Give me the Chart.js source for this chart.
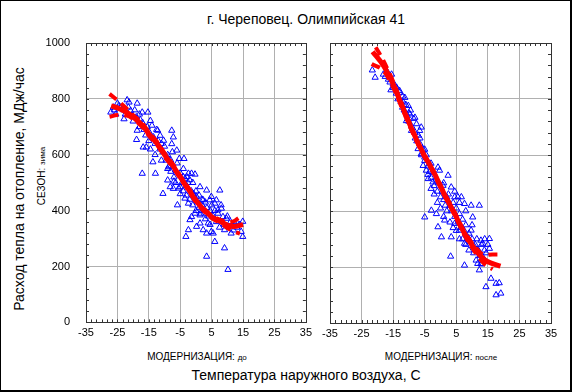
<!DOCTYPE html>
<html>
<head>
<meta charset="utf-8">
<script src="https://cdn.jsdelivr.net/npm/chart.js"></script>
<style>
  body { margin: 0; background: #fff; }
  #wrap { position: relative; width: 572px; height: 392px; box-sizing: border-box;
          border: 1px solid #000; border-right-width: 2px; border-bottom-width: 2px;
          font-family: "Liberation Sans", Arial, sans-serif; color: #000; overflow: hidden; }
  canvas { position: absolute; }
  .t { position: absolute; white-space: nowrap; }
</style>
</head>
<body>
<div id="wrap">
  <div class="t" id="title" style="left:305px; top:10px; font-size:14px; transform:translateX(-50%);">г. Череповец. Олимпийская 41</div>
  <div class="t" style="left:18px; top:188px; font-size:14px; transform:translate(-50%,-50%) rotate(-90deg);">Расход тепла на отопление, МДж/час</div>
  <div class="t" style="left:40px; top:175px; font-size:10px; transform:translate(-50%,-50%) rotate(-90deg);">СЕЗОН: <span style="font-size:8px">зима</span></div>
  <div class="t" style="left:196px; top:350px; font-size:10px; transform:translateX(-50%);">МОДЕРНИЗАЦИЯ: <span style="font-size:8px">до</span></div>
  <div class="t" style="left:440px; top:350px; font-size:10px; transform:translateX(-50%);">МОДЕРНИЗАЦИЯ: <span style="font-size:8px">после</span></div>
  <div class="t" style="left:305px; top:366px; font-size:14px; transform:translateX(-50%);">Температура наружного воздуха, С</div>
  <canvas id="c1" width="316" height="345" style="left:-1px; top:-1px;"></canvas>
  <canvas id="c2" width="256" height="345" style="left:315px; top:-1px;"></canvas>
</div>
<script>
// оси
var xTicks = [-35, -25, -15, -5, 5, 15, 25, 35];
var yTicks = [0, 200, 400, 600, 800, 1000];

// МОДЕРНИЗАЦИЯ: до — наблюдения (температура, расход)
var beforeT = [-27.1,-26.3,-25,-24,-21.9,-21.3,-22.9,-20.8,-18.7,-17.1,-17.7,-15.3,-18.7,-18.9,-16.8,-15.8,-14.5,-14,-13.5,-12.2,
  -11.4,-10.3,-17.1,-12.9,-13.7,-10.5,-7.7,-7.2,-7.7,-6.1,-5.3,-3.8,-9.2,-8.7,-9,-8.2,-7.2,-5.9,-5,-4,
  -2.9,-2.4,-1.4,-0.3,-3.5,-2.4,-3.2,-1.9,-2.4,-0.8,0.2,-0.3,1.3,2.3,3.4,3.4,3.9,1.3,4.4,4.9,
  6,6.5,7.6,7,8.1,5.5,6,3.4,8.6,9.1,9.1,9.7,10.2,10.2,11.2,12.3,12.8,14.4,14.9,14.9,
  3.4,4.9,2.3,0.2,1.3,-1.4,-26,-25.5,-24.5,-23,-22.5,-21.5,-20.5,-20,-19,-19.5,-18,-18,-17,-16.5,
  -16,-15.5,-15,-14.8,-14,-13,-12.5,-12,-11.5,-11,-10.5,-10,-9.5,-9,-8.5,-8,-8,-7.5,-7,-6.5,
  -6.5,-6,-5.5,-5,-4.5,-4,-4,-3.5,-3,-3,-2.5,-2,-2,-1.5,-1,-1,-0.5,0,0,0.5,
  1,1,1.5,2,2,2.5,3,3,3.5,4,4.5,4.5,5,5.5,6,6.5,7,7.5,8,9,
  10,11,13,14,12,-13,-14.5,-11,-9,-7,-5];
var beforeQ = [752,770,784,770,796,788,728,758,784,752,725,752,687,654,627,627,722,705,663,687,
  669,651,533,533,574,461,687,663,639,616,586,586,592,556,509,485,479,420,485,521,
  521,533,533,530,444,426,307,367,331,461,450,390,485,438,473,390,355,355,438,450,
  426,438,473,402,408,319,289,236,378,266,331,372,189,343,319,355,361,325,361,307,
  319,325,331,343,384,378,760,745,775,760,745,770,740,720,735,760,745,700,715,690,
  670,700,650,680,660,640,690,650,620,640,610,630,580,600,560,540,580,610,520,545,
  500,570,480,535,500,470,550,515,490,455,500,440,510,470,420,500,450,470,400,430,
  455,410,390,440,420,400,370,430,410,380,350,400,420,380,400,360,390,340,420,350,
  380,360,340,350,330,600,620,580,550,505,460];

// тренд и доверительные границы (до)
var fitBeforeT = [-27,-25,-22,-20,-17,-15,-12,-10,-7,-5,-2,0,3,5,8,10,12,15];
var fitBeforeQ = [775,768,752,735,705,675,635,600,555,520,470,435,398,378,360,348,343,350];
var upBeforeT = [-27.5,-25,-22,-20,-17,-15,-12,-10,-7,-5,-2,0,3,5,8,10,12,13.5];
var upBeforeQ = [818,795,765,742,712,681,641,606,561,525,475,440,403,383,366,358,362,373];
var loBeforeT = [-27.5,-25,-22,-20,-17,-15,-12,-10,-7,-5,-2,0,3,5,8,10,12,14];
var loBeforeQ = [736,742,740,728,698,669,629,594,549,515,465,430,393,373,354,338,326,318];

// МОДЕРНИЗАЦИЯ: после — наблюдения
var afterT = [-21.6,-20.7,-18.1,-15.5,-15.7,-15,-13.9,-12.9,-11.3,-11.8,-10.2,-9.7,-10.8,-9.2,-8.1,-7.6,-6.6,-6.1,-7.1,-6.1,
  -5,-5.5,-4.5,-3.4,-3.9,-2.4,-0.8,-0.3,2.4,3.4,0.8,4.5,5.5,6.6,7.6,9.7,12.3,-5,-2.9,-1.3,
  -0.8,0.3,1.3,3.4,3.2,4.5,6,7.6,7.6,8.6,9.7,10.2,10.8,11.3,11.8,12.3,12.8,13.4,13.9,15.5,
  15.5,12.8,14.4,16,17.6,18.6,17.6,19.1,13.4,11.8,-17.5,-17,-16.5,-16,-15,-14.5,-14,-13.5,-13,-12.5,
  -12,-11.5,-11,-10.5,-10,-9.5,-9,-8.5,-8,-8,-7.5,-7,-6.5,-6,-5.5,-5,-4.5,-4,-4,-3.5,
  -3,-3,-2.5,-2,-2,-1.5,-1,-1,-0.5,0,0,0.5,1,1,1.5,2,2,2.5,3,3,
  3.5,4,4,4.5,5,5,5.5,6,6,6.5,7,7,7.5,8,8,8.5,9,9,9.5,10,
  10.5,11,11.5,12,12.5,13,14,14.5,15,13,-12,-10,-6.5,-5,-3,1,4.5,6,8,10];
var afterQ = [903,877,888,888,832,853,841,823,805,788,776,746,722,687,734,711,687,699,622,604,
  592,562,545,568,515,503,556,545,527,485,491,450,450,450,426,420,420,378,402,390,
  343,307,367,307,238,355,331,284,206,307,331,378,272,224,212,189,295,284,260,301,
  266,212,129,159,141,143,100,106,236,260,880,900,870,860,840,850,820,800,830,790,
  770,760,780,740,720,760,700,730,680,660,650,670,640,600,620,580,600,560,530,540,
  520,480,540,490,460,510,470,430,500,450,410,470,440,380,420,450,400,460,420,360,
  400,430,340,380,410,330,360,390,300,340,370,300,330,350,280,300,320,260,290,300,
  250,280,300,260,240,280,300,250,280,210,810,750,660,620,570,500,470,430,400,350];

// тренд и доверительные границы (после)
var fitAfterT = [-21.5,-18,-15,-12,-9,-6,-2,1,4.5,7.5,11,14,16.5,19];
var fitAfterQ = [969,918,853,770,690,617,535,465,390,322,262,226,212,203];
var upAfterT = [-20.5,-18,-15,-12,-9,-6,-2,1,4.5,7.5,11,14,16.5,19.5];
var upAfterQ = [985,935,862,776,694,620,538,469,395,328,272,243,245,245];
var loAfterT = [-21.8,-18,-15,-12,-9,-6,-2,1,4.5,7.5,11,14,16.5];
var loAfterQ = [925,900,842,762,684,612,531,460,385,316,252,210,192];

function zip(xs, ys) {
    var out = [];
    for (var i = 0; i < xs.length; i++) out.push({x: xs[i], y: ys[i]});
    return out;
}

// рамка и мелкие засечки
var framePlugin = {
    id: 'frame',
    beforeDatasetsDraw: function(chart) {
        var a = chart.chartArea, ctx = chart.ctx;
        var sx = chart.scales.x, sy = chart.scales.y;
        ctx.save();
        ctx.strokeStyle = '#333';
        ctx.lineWidth = 1;
        ctx.beginPath();
        for (var i = 0; i <= 42; i++) {
            var px = Math.round(sx.getPixelForValue(-35 + i * 10 / 6)) + 0.5;
            ctx.moveTo(px, a.top); ctx.lineTo(px, a.top + 3);
            ctx.moveTo(px, a.bottom); ctx.lineTo(px, a.bottom - 3);
        }
        for (var j = 0; j <= 25; j++) {
            var py = Math.round(sy.getPixelForValue(j * 40)) + 0.5;
            ctx.moveTo(a.left, py); ctx.lineTo(a.left + 3, py);
            ctx.moveTo(a.right, py); ctx.lineTo(a.right - 3, py);
        }
        ctx.stroke();
        ctx.strokeRect(Math.round(a.left) + 0.5, Math.round(a.top) + 0.5,
                       Math.round(a.right - a.left), Math.round(a.bottom - a.top));
        ctx.restore();
    }
};

function makeChart(id, pts, fit, up, lo, showY, yWidth, pad) {
    var gridColor = function(c) {
        var v = c.tick ? c.tick.value : null;
        return (v === -35 || v === 35 || v === 0 || v === 1000) ? 'rgba(0,0,0,0)' : '#b0b0b0';
    };
    return new Chart(document.getElementById(id), {
        type: 'scatter',
        data: {
            datasets: [
                {data: fit, showLine: true, borderColor: '#ff0000', borderWidth: 5, pointRadius: 0,
                 cubicInterpolationMode: 'monotone', order: 0},
                {data: up, showLine: true, borderColor: '#ff0000', borderWidth: 4, borderDash: [9, 6],
                 pointRadius: 0, cubicInterpolationMode: 'monotone', order: 1},
                {data: lo, showLine: true, borderColor: '#ff0000', borderWidth: 4, borderDash: [9, 6],
                 pointRadius: 0, cubicInterpolationMode: 'monotone', order: 1},
                {data: pts, pointStyle: 'triangle', pointRadius: 3.6, borderWidth: 1,
                 borderColor: '#0000ff', backgroundColor: 'rgba(0,0,0,0)', order: 2}
            ]
        },
        options: {
            responsive: false,
            animation: false,
            events: [],
            layout: {padding: pad},
            plugins: {legend: {display: false}, tooltip: {enabled: false}},
            scales: {
                x: {
                    type: 'linear', min: -35, max: 35,
                    afterBuildTicks: function(s) { s.ticks = xTicks.map(function(v) { return {value: v}; }); },
                    afterFit: function(s) { s.height = 22; },
                    border: {display: false},
                    grid: {color: gridColor, borderDash: [1, 2], drawTicks: false, lineWidth: 1},
                    ticks: {color: '#000', padding: 4, maxRotation: 0, autoSkip: false,
                            callback: function(v) { return String(v); },
                            font: {family: 'Liberation Sans', size: 11}}
                },
                y: {
                    type: 'linear', min: 0, max: 1000,
                    afterBuildTicks: function(s) { s.ticks = yTicks.map(function(v) { return {value: v}; }); },
                    afterFit: function(s) { s.width = yWidth; },
                    border: {display: false},
                    grid: {color: gridColor, borderDash: [1, 2], drawTicks: false, lineWidth: 1},
                    ticks: {display: showY, color: '#000', padding: 16,
                            callback: function(v) { return String(v); },
                            font: {family: 'Liberation Sans', size: 11}}
                }
            }
        },
        plugins: [framePlugin]
    });
}

makeChart('c1', zip(beforeT, beforeQ), zip(fitBeforeT, fitBeforeQ), zip(upBeforeT, upBeforeQ),
          zip(loBeforeT, loBeforeQ), true, 86, {left: 0, right: 9, top: 43, bottom: 0});
makeChart('c2', zip(afterT, afterQ), zip(fitAfterT, fitAfterQ), zip(upAfterT, upAfterQ),
          zip(loAfterT, loAfterQ), false, 14, {left: 0, right: 21, top: 43, bottom: 0});
</script>
</body>
</html>
